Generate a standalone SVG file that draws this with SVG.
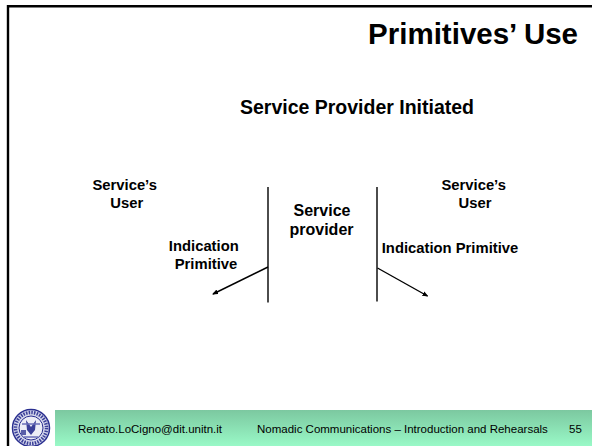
<svg xmlns="http://www.w3.org/2000/svg" width="592" height="446" viewBox="0 0 592 446">
<style>
text{font-family:"Liberation Sans",Arial,sans-serif;fill:#000}
.b{font-weight:bold;font-size:14.8px;text-anchor:middle}
.p{font-weight:bold;font-size:16px;text-anchor:middle}
.f{font-size:11.5px}
.l{stroke:#000;stroke-width:1.4;fill:none}
</style>
<defs>
<linearGradient id="g" x1="0" y1="0" x2="0" y2="1"><stop offset="0" stop-color="#7cc8a0"/><stop offset="1" stop-color="#99f9c7"/></linearGradient>
<marker id="a" markerWidth="6" markerHeight="5" refX="5" refY="2.5" orient="auto" markerUnits="userSpaceOnUse"><path d="M0 0L6 2.5L0 5Z" fill="#000"/></marker>
</defs>
<rect width="592" height="446" fill="#fff"/>
<path d="M8 446V6.2H592" fill="none" stroke="#000" stroke-width="2.4"/>
<rect x="55" y="410" width="537" height="36" fill="url(#g)"/>
<g id="logo">
<circle cx="31" cy="428" r="18.5" fill="#d5d7ec" stroke="#2a2f90" stroke-width="1.5"/>
<circle cx="31" cy="428" r="15.5" fill="none" stroke="#3a3f98" stroke-width="3.5" stroke-dasharray="1.5 1.2"/>
<circle cx="31" cy="428" r="12" fill="#ecedf6" stroke="#2a2f90" stroke-width="1"/>
<path d="M26 420L31 427L36 420L35 430L31 435L27 430Z" fill="#3a3f98"/>
<rect x="21" y="430" width="5" height="5" fill="#5a5fa8"/>
<path d="M22 424H40M24 437H38" stroke="#6a6fb8" stroke-width="1.5"/>
</g>
<text x="578" y="43.5" text-anchor="end" font-size="29.5" font-weight="bold">Primitives’ Use</text>
<text x="357" y="113.5" text-anchor="middle" font-size="19.5" font-weight="bold">Service Provider Initiated</text>
<g id="user-left"><text class="b" x="124.7" y="190">Service’s</text><text class="b" x="126.7" y="208">User</text></g>
<g id="user-right"><text class="b" x="473.7" y="190">Service’s</text><text class="b" x="475" y="208">User</text></g>
<g id="provider"><text class="p" x="322" y="216">Service</text><text class="p" x="321.5" y="234.5">provider</text></g>
<g id="label-left"><text class="b" x="203.8" y="251">Indication</text><text class="b" x="206" y="269">Primitive</text></g>
<g id="label-right"><text class="b" x="450" y="253">Indication Primitive</text></g>
<g id="connectors">
<path class="l" d="M268 187V302.5"/><path class="l" d="M377 187V301.5"/>
<path class="l" d="M268 267L213 294" marker-end="url(#a)"/>
<path class="l" d="M377.5 268L427.5 296" marker-end="url(#a)"/>
</g>
<g id="footer"><text class="f" x="78" y="433">Renato.LoCigno@dit.unitn.it</text><text class="f" x="257" y="433">Nomadic Communications – Introduction and Rehearsals</text><text class="f" x="569" y="433">55</text></g>
</svg>
